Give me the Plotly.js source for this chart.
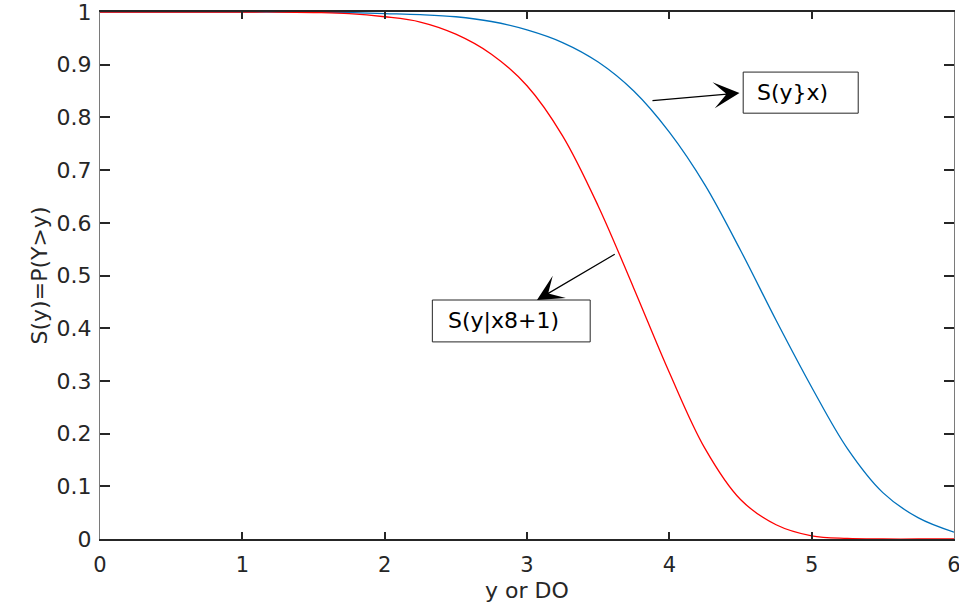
<!DOCTYPE html>
<html>
<head>
<meta charset="utf-8">
<script src="https://cdn.plot.ly/plotly-3.0.1.min.js"></script>
<style>html,body{margin:0;padding:0;background:#fff;}</style>
</head>
<body>
<div id="chart" style="width:959px;height:603px;"></div>
<script>
// S(y|x8+1) — red curve
const redX = [0, 0.5, 1, 1.25, 1.5, 1.75, 2.0, 2.25, 2.5, 2.75, 3.0, 3.25, 3.5, 3.75, 4.0, 4.25, 4.5, 4.75, 5.0, 5.25, 5.5, 5.75, 6];
const redY = [1, 1, 1, 1, 0.999, 0.997, 0.991, 0.981, 0.958, 0.920, 0.860, 0.765, 0.632, 0.476, 0.316, 0.172, 0.075, 0.027, 0.006, 0.001, 0, 0, 0];
// S(y}x) — blue curve
const blueX = [0, 0.5, 1, 1.25, 1.5, 1.75, 2.0, 2.25, 2.5, 2.75, 3.0, 3.25, 3.5, 3.75, 4.0, 4.25, 4.5, 4.75, 5.0, 5.25, 5.5, 5.75, 6];
const blueY = [1, 1, 1, 1, 1, 0.999, 0.997, 0.995, 0.991, 0.982, 0.966, 0.942, 0.905, 0.850, 0.772, 0.672, 0.548, 0.415, 0.288, 0.172, 0.088, 0.040, 0.013];

const xTicks = [0, 1, 2, 3, 4, 5, 6];
const yTicks = [0, 0.1, 0.2, 0.3, 0.4, 0.5, 0.6, 0.7, 0.8, 0.9, 1];
const yTickText = ['0', '0.1', '0.2', '0.3', '0.4', '0.5', '0.6', '0.7', '0.8', '0.9', '1'];
const xLabel = 'y or DO';
const yLabel = 'S(y)=P(Y>y)';
const label1 = 'S(y}x)';
const label2 = 'S(y|x8+1)';

const FONT = 'DejaVu Sans, Arial, sans-serif';
const txt = '#262626';

const traces = [
  {x: blueX, y: blueY, mode: 'lines', line: {color: '#0072BD', width: 1.3, shape: 'spline', smoothing: 1}, hoverinfo: 'skip'},
  {x: redX, y: redY, mode: 'lines', line: {color: '#FF0000', width: 1.3, shape: 'spline', smoothing: 1}, hoverinfo: 'skip'}
];

const layout = {
  width: 959, height: 603,
  margin: {l: 99.5, r: 5, t: 12, b: 64},
  paper_bgcolor: '#fff', plot_bgcolor: '#fff',
  showlegend: false,
  font: {family: FONT, size: 21, color: txt},
  xaxis: {
    range: [0, 6], tickvals: xTicks, ticktext: xTicks.map(String),
    showgrid: false, zeroline: false,
    showline: true, linecolor: '#262626', linewidth: 2, mirror: 'ticks',
    ticks: 'inside', ticklen: 7, tickwidth: 2, tickcolor: '#262626',
    ticklabelstandoff: 6, ticklabeloverflow: 'allow',
    tickfont: {family: FONT, size: 21, color: txt},
    title: {text: xLabel, font: {family: FONT, size: 22, color: txt}, standoff: 12}
  },
  yaxis: {
    range: [0, 1], tickvals: yTicks, ticktext: yTickText,
    showgrid: false, zeroline: false,
    showline: true, linecolor: '#7a7a7a', linewidth: 1, mirror: 'ticks',
    ticks: 'inside', ticklen: 10, tickwidth: 2, tickcolor: '#262626',
    ticklabelstandoff: 3, ticklabeloverflow: 'allow',
    tickfont: {family: FONT, size: 22, color: txt},
    title: {text: yLabel, font: {family: FONT, size: 22, color: txt}, standoff: 2}
  },
  shapes: [
    {type: 'rect', xref: 'x', yref: 'y', x0: 4.519, x1: 5.327, y0: 0.808, y1: 0.886,
     line: {color: '#262626', width: 1}, fillcolor: '#fff', layer: 'above'},
    {type: 'rect', xref: 'x', yref: 'y', x0: 2.335, x1: 3.444, y0: 0.374, y1: 0.4535,
     line: {color: '#262626', width: 1}, fillcolor: '#fff', layer: 'above'}
  ],
  annotations: [
    {text: label1, xref: 'x', yref: 'y', x: 4.605, y: 0.847, xanchor: 'left', yanchor: 'middle',
     showarrow: false, font: {family: FONT, size: 22, color: '#000'}},
    {text: label2, xref: 'x', yref: 'y', x: 2.43, y: 0.414, xanchor: 'left', yanchor: 'middle',
     showarrow: false, font: {family: FONT, size: 22, color: '#000'}},
    {text: '', xref: 'x', yref: 'y', axref: 'x', ayref: 'y',
     x: 4.493, y: 0.8463, ax: 3.871, ay: 0.8317,
     showarrow: true, arrowhead: 3, arrowsize: 3.6, arrowwidth: 1.2, arrowcolor: '#000', standoff: 0, startstandoff: 0},
    {text: '', xref: 'x', yref: 'y', axref: 'x', ayref: 'y',
     x: 3.070, y: 0.4535, ax: 3.627, ay: 0.542,
     showarrow: true, arrowhead: 3, arrowsize: 3.6, arrowwidth: 1.2, arrowcolor: '#000', standoff: 0, startstandoff: 0}
  ]
};

Plotly.newPlot('chart', traces, layout, {displayModeBar: false, staticPlot: true});
</script>
</body>
</html>
